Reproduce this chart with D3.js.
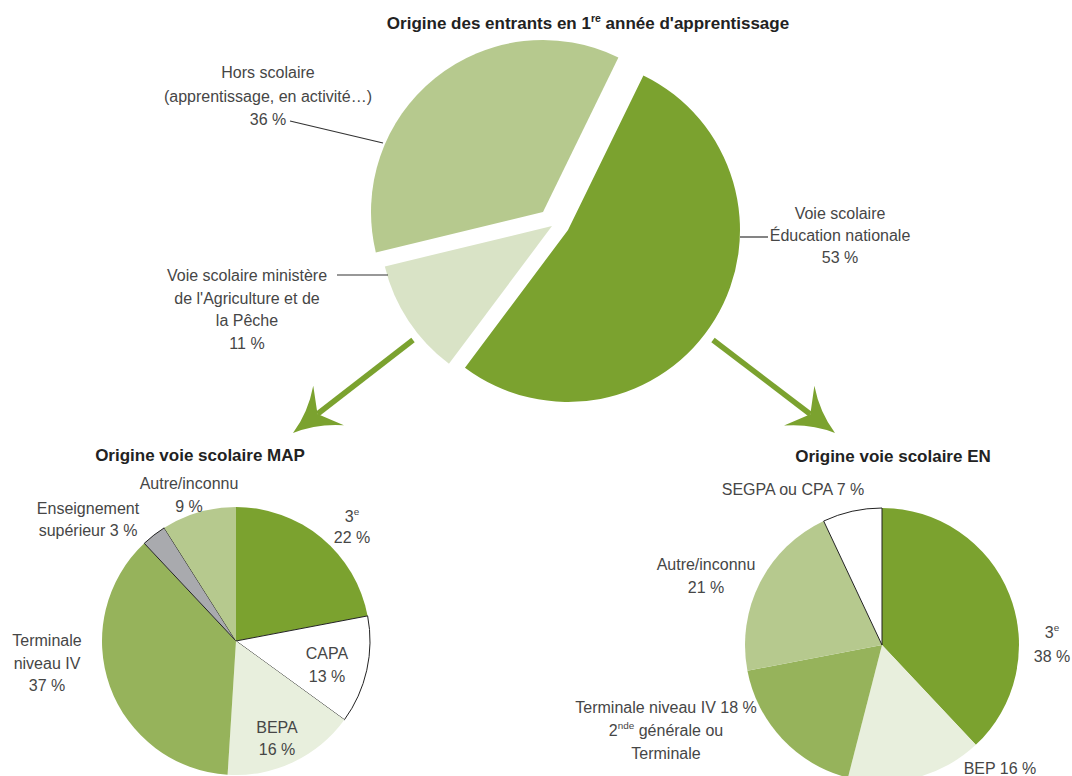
<!DOCTYPE html>
<html><head><meta charset="utf-8">
<script src="https://cdn.jsdelivr.net/npm/d3@7/dist/d3.min.js"></script>
<style>
html,body{margin:0;padding:0;background:#fff;}
svg{display:block;}
text{font-family:"Liberation Sans",Arial,sans-serif;}
</style></head>
<body>
<script>
// ---------- DATA ----------
const topCategories = ["Voie scolaire Éducation nationale", "Voie scolaire ministère de l'Agriculture et de la Pêche", "Hors scolaire (apprentissage, en activité…)"];
const topValues = [53, 11, 36];

const mapCategories = ["3e", "CAPA", "BEPA", "Terminale niveau IV", "Enseignement supérieur", "Autre/inconnu"];
const mapValues = [22, 13, 16, 37, 3, 9];

const enCategories = ["3e", "BEP", "Terminale niveau IV / 2nde générale ou Terminale", "Autre/inconnu", "SEGPA ou CPA"];
const enValues = [38, 16, 18, 21, 7];

// ---------- STYLE / LAYOUT ----------
const W = 1072, H = 776;
const svg = d3.select("body").append("svg").attr("width", W).attr("height", H);
svg.append("rect").attr("width", W).attr("height", H).attr("fill", "#fff");

const GREEN = "#7ba22f";
const LABEL = "#464646";
const FS = 16;
const TFS = 17;

const topColors = [GREEN, "#d9e3c6", "#b6c98e"];
const topExplode = [[16, 8], [0, 4], [-9, -10]];
const mapColors = [GREEN, "#ffffff", "#e8efdd", "#96b35b", "#a9aaae", "#b6c98e"];
const mapStroke = [null, "#222", null, null, "#222", null];
const enColors = [GREEN, "#e8efdd", "#96b35b", "#b6c98e", "#ffffff"];
const enStroke = [null, null, null, null, "#222"];

function drawPie(cx, cy, r, values, colors, strokes, startDeg, explode) {
  const start = startDeg * Math.PI / 180;
  const pie = d3.pie().sort(null).startAngle(start).endAngle(start + 2 * Math.PI);
  const arc = d3.arc().innerRadius(0).outerRadius(r);
  const g = svg.append("g").attr("transform", `translate(${cx},${cy})`);
  const arcs = pie(values);
  g.selectAll("path").data(arcs).enter().append("path")
    .attr("d", arc)
    .attr("transform", (d, i) => explode ? `translate(${explode[i][0]},${explode[i][1]})` : null)
    .attr("fill", (d, i) => colors[i])
    .attr("stroke", (d, i) => strokes && strokes[i] ? strokes[i] : "none")
    .attr("stroke-width", 1)
    .attr("stroke-linejoin", "round");
  return arcs;
}

// label: lines are strings or arrays of segments [text, sup?]
function label(x, y, lines, opts = {}) {
  const lh = opts.lh || 23;
  const fs = opts.fs || FS;
  const t = svg.append("text").attr("text-anchor", opts.anchor || "middle")
    .attr("font-size", fs).attr("fill", opts.fill || LABEL)
    .attr("font-weight", opts.bold ? "bold" : "normal");
  lines.forEach((ln, i) => {
    const segs = Array.isArray(ln) ? ln : [[ln]];
    let raised = false;
    segs.forEach((s, j) => {
      const sp = t.append("tspan").text(s[0]);
      if (j === 0) sp.attr("x", x).attr("y", y + i * lh);
      if (s[1]) {
        sp.attr("font-size", fs * 0.62).attr("dy", -7);
        raised = true;
      } else if (raised) {
        sp.attr("dy", 7);
        raised = false;
      }
    });
  });
  return t;
}

function leader(x1, y1, x2, y2) {
  svg.append("line").attr("x1", x1).attr("y1", y1).attr("x2", x2).attr("y2", y2)
    .attr("stroke", "#333").attr("stroke-width", 1.2);
}

function arrow(sx, sy, tx, ty) {
  const dx = tx - sx, dy = ty - sy, L = Math.hypot(dx, dy);
  const ux = dx / L, uy = dy / L, nx = -uy, ny = ux;
  const hl = 45, hw = 25, notch = 31;
  const p = (a, b) => [tx - ux * a + nx * b, ty - uy * a + ny * b];
  const w1 = p(hl, hw), w2 = p(hl, -hw), nt = p(notch, 0);
  const c1 = p(hl * 0.55, hw * 0.28), c2 = p(hl * 0.55, -hw * 0.28);
  svg.append("line").attr("x1", sx).attr("y1", sy).attr("x2", nt[0]).attr("y2", nt[1])
    .attr("stroke", GREEN).attr("stroke-width", 5.5);
  svg.append("path")
    .attr("d", `M${tx},${ty}Q${c1[0]},${c1[1]} ${w1[0]},${w1[1]}L${nt[0]},${nt[1]}L${w2[0]},${w2[1]}Q${c2[0]},${c2[1]} ${tx},${ty}Z`)
    .attr("fill", GREEN);
}

const pct = v => v + " %";

// ---------- TOP PIE ----------
label(588, 29, [[["Origine des entrants en 1"], ["re", true], [" année d'apprentissage"]]], { bold: true, fs: TFS, fill: "#222" });
drawPie(552, 222, 172, topValues, topColors, null, 26, topExplode);

label(268, 78, ["Hors scolaire", "(apprentissage, en activité…)", pct(topValues[2])], { lh: 23.5 });
leader(290, 121, 383, 143);
label(247, 281, ["Voie scolaire ministère", "de l'Agriculture et de", "la Pêche", pct(topValues[1])], { lh: 22.5 });
leader(337, 275, 388, 275);
label(840, 219, ["Voie scolaire", "Éducation nationale", pct(topValues[0])], { lh: 22 });
leader(740, 237, 768, 237);

// ---------- ARROWS ----------
arrow(413, 340, 293, 433);
arrow(713, 340, 835, 433);

// ---------- MAP PIE ----------
label(200, 461, ["Origine voie scolaire MAP"], { bold: true, fs: TFS, fill: "#222" });
drawPie(236, 641, 134, mapValues, mapColors, mapStroke, 0, null);
label(189, 489, ["Autre/inconnu", pct(mapValues[5])], { lh: 23 });
label(88, 514, ["Enseignement", "supérieur " + pct(mapValues[4])], { lh: 22 });
label(352, 522, [[["3"], ["e", true]], pct(mapValues[0])], { lh: 21 });
label(327, 659, ["CAPA", pct(mapValues[1])], { lh: 22.5 });
label(277, 733, ["BEPA", pct(mapValues[2])], { lh: 22 });
label(47, 646, ["Terminale", "niveau IV", pct(mapValues[3])], { lh: 22.5 });

// ---------- EN PIE ----------
label(893, 462, ["Origine voie scolaire EN"], { bold: true, fs: TFS, fill: "#222" });
drawPie(882, 645, 137, enValues, enColors, enStroke, 0, null);
label(793, 495, ["SEGPA ou CPA " + pct(enValues[4])]);
label(706, 570, ["Autre/inconnu", pct(enValues[3])], { lh: 23 });
label(1052, 638, [[["3"], ["e", true]], pct(enValues[0])], { lh: 24 });
label(666, 713, ["Terminale niveau IV " + pct(enValues[2]), [["2"], ["nde", true], [" générale ou"]], "Terminale"], { lh: 23 });
label(1000, 774, ["BEP " + pct(enValues[1])]);
</script>
</body></html>
